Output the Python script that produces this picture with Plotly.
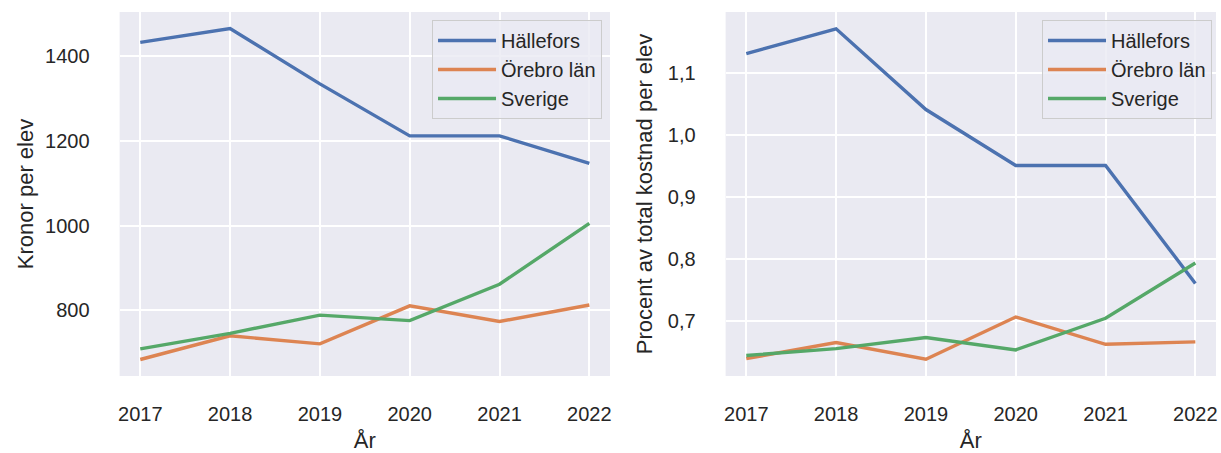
import plotly.graph_objects as go

years = [2017, 2018, 2019, 2020, 2021, 2022]
series_names = ["Hällefors", "Örebro län", "Sverige"]
colors = ["#4C72B0", "#DD8452", "#55A868"]

kronor_hallefors = [1433, 1466, 1335, 1212, 1212, 1147]
kronor_orebro = [683, 739, 720, 810, 773, 812]
kronor_sverige = [708, 745, 788, 775, 861, 1005]

procent_hallefors = [1.131, 1.171, 1.041, 0.951, 0.951, 0.761]
procent_orebro = [0.640, 0.666, 0.639, 0.707, 0.663, 0.667]
procent_sverige = [0.645, 0.656, 0.674, 0.654, 0.705, 0.794]

left_data = [kronor_hallefors, kronor_orebro, kronor_sverige]
right_data = [procent_hallefors, procent_orebro, procent_sverige]

FONT = "Liberation Sans, Arial, sans-serif"
TXT = "#262626"
W, H = 1221, 453

fig = go.Figure()
for name, col, vals in zip(series_names, colors, left_data):
    fig.add_trace(go.Scatter(x=years, y=vals, mode="lines", name=name,
                             line=dict(color=col, width=3.4),
                             xaxis="x", yaxis="y", legend="legend"))
for name, col, vals in zip(series_names, colors, right_data):
    fig.add_trace(go.Scatter(x=years, y=vals, mode="lines", name=name,
                             line=dict(color=col, width=3.4),
                             xaxis="x2", yaxis="y2", legend="legend2"))

ytop = 1 - 12 / H
ybot = 1 - 376 / H
common_axis = dict(showgrid=True, gridcolor="white", gridwidth=1.8,
                   zeroline=False, showline=False, ticks="",
                   tickfont=dict(family=FONT, size=20, color=TXT),
                   title_font=dict(family=FONT, size=22, color=TXT))

legend_common = dict(xanchor="right", yanchor="top",
                     bgcolor="rgba(234,234,242,0.8)", bordercolor="#CCCCCC",
                     borderwidth=1, font=dict(family=FONT, size=20, color=TXT),
                     itemwidth=58, tracegroupgap=0)

fig.update_layout(
    width=W, height=H,
    margin=dict(l=0, r=0, t=0, b=0),
    paper_bgcolor="white",
    plot_bgcolor="#EAEAF2",
    separators=",.",
    font=dict(family=FONT, color=TXT),
    xaxis=dict(domain=[118 / W, 610 / W], anchor="y",
               range=[2016.77, 2022.23], tickmode="linear", tick0=2017, dtick=1,
               ticklabelstandoff=24,
               title=dict(text="År", standoff=10), **common_axis),
    yaxis=dict(domain=[ybot, ytop], anchor="x",
               range=[644, 1505], tick0=0, dtick=200, tickformat="d",
               ticklabelstandoff=29,
               title=dict(text="Kronor per elev", standoff=5), **common_axis),
    xaxis2=dict(domain=[726 / W, 1218 / W], anchor="y2",
                range=[2016.77, 2022.23], tickmode="linear", tick0=2017, dtick=1,
                ticklabelstandoff=24,
                title=dict(text="År", standoff=10), **common_axis),
    yaxis2=dict(domain=[ybot, ytop], anchor="x2",
                range=[0.612, 1.198], tick0=0, dtick=0.1, tickformat=".1f",
                ticklabelstandoff=29,
                title=dict(text="Procent av total kostnad per elev", standoff=9),
                **common_axis),
    legend=dict(x=602 / W, y=1 - 20 / H, **legend_common),
    legend2=dict(x=1214 / W, y=1 - 20 / H, **legend_common),
)

fig.write_html(
    "out.html",
    config={"displayModeBar": False},
    post_script="document.body.style.margin='0';"
                "document.documentElement.style.overflow='hidden';"
                "document.body.style.overflow='hidden';",
)
